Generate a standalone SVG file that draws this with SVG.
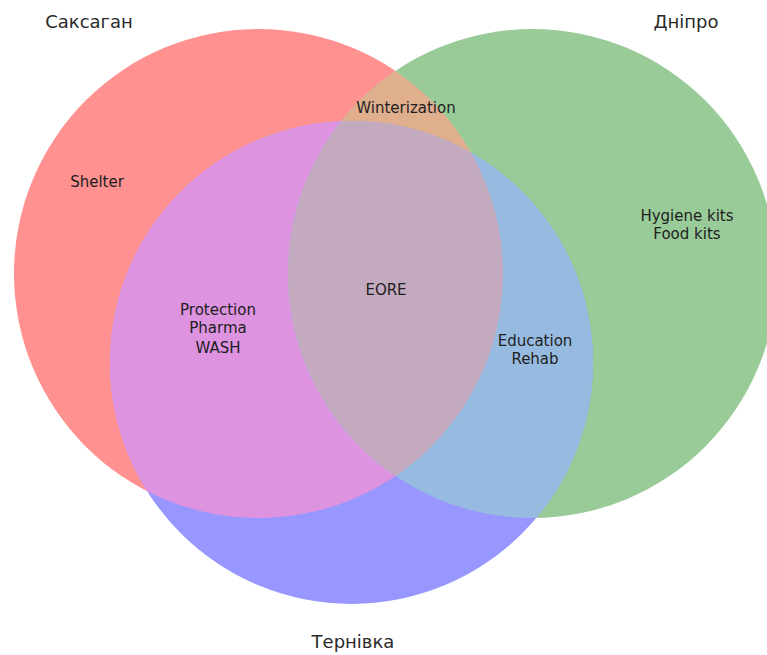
<svg xmlns="http://www.w3.org/2000/svg" width="767" height="655" viewBox="0 0 767 655">
<style>
.lbl{font-family:"DejaVu Sans","Liberation Sans",sans-serif;font-size:15px;fill:#1e1e1e;text-anchor:middle}
.set{font-family:"DejaVu Sans","Liberation Sans",sans-serif;font-size:18px;fill:#2a2a2a;text-anchor:middle}
</style>
<defs>
<circle id="cA" cx="258.5" cy="273.5" r="244.5"/>
<circle id="cB" cx="532.5" cy="273.5" r="244.5"/>
<circle id="cC" cx="351.5" cy="362.5" r="241.5"/>
<clipPath id="clipA"><use href="#cA"/></clipPath>
<clipPath id="clipB"><use href="#cB"/></clipPath>
</defs>
<rect width="767" height="655" fill="#ffffff"/>
<g id="sets">
<use id="setA" href="#cA" fill="#ff9191"/>
<use id="setB" href="#cB" fill="#98cb98"/>
<use id="setC" href="#cC" fill="#9797ff"/>
<g clip-path="url(#clipA)"><use id="regAB" href="#cB" fill="#e0b08e"/></g>
<g clip-path="url(#clipA)"><use id="regAC" href="#cC" fill="#dd93e0"/></g>
<g clip-path="url(#clipB)"><use id="regBC" href="#cC" fill="#97bae0"/></g>
<g clip-path="url(#clipA)"><g clip-path="url(#clipB)"><use id="regABC" href="#cC" fill="#c4aabf"/></g></g>
</g>
<g id="connectors"></g>
<g id="node-A"><text class="set" x="89" y="28">Саксаган</text></g>
<g id="node-B"><text class="set" x="686" y="28">Дніпро</text></g>
<g id="node-C"><text class="set" x="353" y="648">Тернівка</text></g>
<g id="node-shelter"><text class="lbl" x="97" y="187">Shelter</text></g>
<g id="node-winter"><text class="lbl" x="406" y="113">Winterization</text></g>
<g id="node-hygiene"><text class="lbl" x="687" y="221">Hygiene kits</text><text class="lbl" x="687" y="239">Food kits</text></g>
<g id="node-eore"><text class="lbl" x="386" y="295">EORE</text></g>
<g id="node-protection"><text class="lbl" x="218" y="315">Protection</text><text class="lbl" x="218" y="333">Pharma</text><text class="lbl" x="218" y="353">WASH</text></g>
<g id="node-education"><text class="lbl" x="535" y="346">Education</text><text class="lbl" x="535" y="364">Rehab</text></g>
</svg>
